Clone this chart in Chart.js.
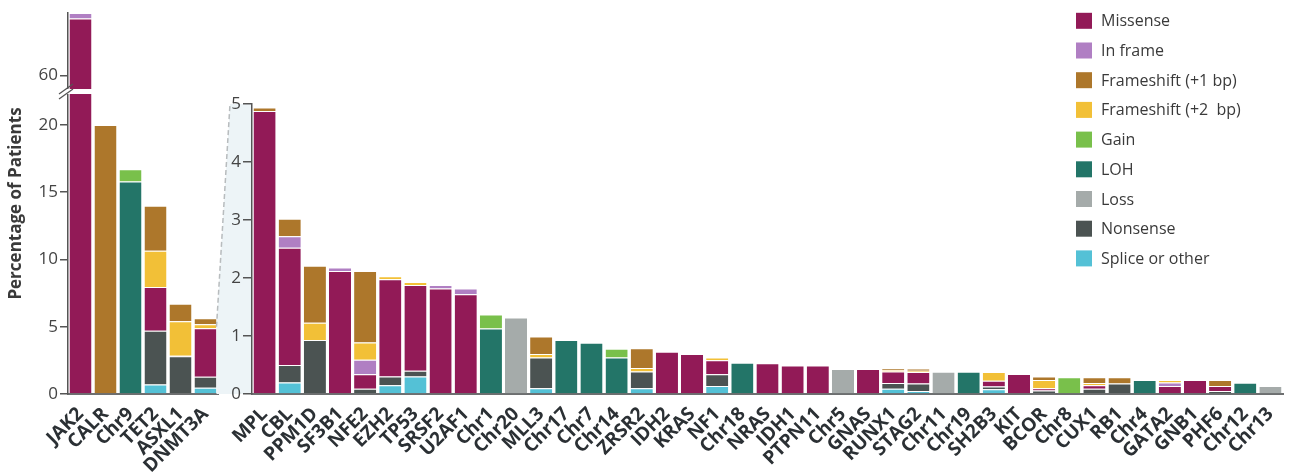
<!DOCTYPE html>
<html lang="en">
<head>
<meta charset="UTF-8">
<title>Percentage of Patients by gene</title>
<script src="https://cdn.jsdelivr.net/npm/chart.js"></script>
<style>
  body { margin: 0; background: #fff; }
  #wrap { position: relative; width: 1290px; height: 472px; }
  #wrap canvas { position: absolute; left: 0; top: 0; }
</style>
</head>
<body>
<div id="wrap">
  <canvas id="leftChart" width="1290" height="472"></canvas>
  <canvas id="rightChart" width="1290" height="472"></canvas>
</div>
<script>
// categories: first 6 go in the left (broken axis) panel, the rest in the zoomed panel
const genes = ['JAK2', 'CALR', 'Chr9', 'TET2', 'ASXL1', 'DNMT3A',
  'MPL', 'CBL', 'PPM1D', 'SF3B1', 'NFE2', 'EZH2', 'TP53', 'SRSF2', 'U2AF1',
  'Chr1', 'Chr20', 'MLL3', 'Chr17', 'Chr7', 'Chr14', 'ZRSR2', 'IDH2', 'KRAS', 'NF1',
  'Chr18', 'NRAS', 'IDH1', 'PTPN11', 'Chr5', 'GNAS', 'RUNX1', 'STAG2', 'Chr11', 'Chr19',
  'SH2B3', 'KIT', 'BCOR', 'Chr8', 'CUX1', 'RB1', 'Chr4', 'GATA2', 'GNB1', 'PHF6', 'Chr12', 'Chr13'];
const splitAt = 6;

// percentage of patients per alteration type (same order as genes)
const missense = [64.25, 0, 0, 3.25, 0.05, 3.6,
  4.88, 2.02, 0, 2.12, 0.25, 1.68, 1.48, 1.82, 1.72,
  0, 0, 0, 0, 0, 0, 0, 0.73, 0.69, 0.24,
  0, 0.53, 0.49, 0.49, 0, 0.43, 0.2, 0.2, 0, 0,
  0.1, 0.345, 0.04, 0, 0.06, 0, 0, 0.14, 0.24, 0.09, 0, 0];
const inFrame = [0.4, 0, 0, 0, 0, 0,
  0, 0.2, 0, 0.06, 0.25, 0, 0, 0.06, 0.1,
  0, 0, 0, 0, 0, 0, 0, 0, 0, 0,
  0, 0, 0, 0, 0, 0, 0, 0, 0, 0,
  0, 0, 0, 0, 0, 0, 0, 0.06, 0, 0, 0, 0];
const frameshift1 = [0, 20.0, 0, 3.35, 1.3, 0.45,
  0.06, 0.3, 0.98, 0, 1.23, 0, 0, 0, 0,
  0, 0, 0.3, 0, 0, 0, 0.34, 0, 0, 0,
  0, 0, 0, 0, 0, 0, 0.03, 0.04, 0, 0,
  0, 0, 0.06, 0, 0.1, 0.11, 0, 0, 0, 0.1, 0, 0];
const frameshift2 = [0, 0, 0, 2.7, 2.55, 0.3,
  0, 0, 0.3, 0, 0.3, 0.05, 0.05, 0, 0,
  0, 0, 0.06, 0, 0, 0, 0.06, 0, 0, 0.05,
  0, 0, 0, 0, 0, 0, 0.02, 0.02, 0, 0,
  0.15, 0, 0.14, 0, 0.04, 0, 0, 0.04, 0, 0, 0, 0];
const gain = [0, 0, 0.9, 0, 0, 0,
  0, 0, 0, 0, 0, 0, 0, 0, 0,
  0.24, 0, 0, 0, 0, 0.15, 0, 0, 0, 0,
  0, 0, 0, 0, 0, 0, 0, 0, 0, 0,
  0, 0, 0, 0.29, 0, 0, 0, 0, 0, 0, 0, 0];
const loh = [0, 0, 15.8, 0, 0, 0,
  0, 0, 0, 0, 0, 0, 0, 0, 0,
  1.13, 0, 0, 0.93, 0.885, 0.63, 0, 0, 0, 0,
  0.54, 0, 0, 0, 0, 0, 0, 0, 0, 0.385,
  0, 0, 0, 0, 0, 0, 0.24, 0, 0, 0, 0.195, 0];
const loss = [0, 0, 0, 0, 0, 0,
  0, 0, 0, 0, 0, 0, 0, 0, 0,
  0, 1.32, 0, 0, 0, 0, 0, 0, 0, 0,
  0, 0, 0, 0, 0.43, 0, 0, 0, 0.385, 0,
  0, 0, 0, 0, 0, 0, 0, 0, 0, 0, 0, 0.14];
const nonsense = [0, 0, 0, 4.0, 2.8, 0.82,
  0, 0.3, 0.93, 0, 0.09, 0.15, 0.1, 0, 0,
  0, 0, 0.53, 0, 0, 0, 0.29, 0, 0, 0.2,
  0, 0, 0, 0, 0, 0, 0.1, 0.13, 0, 0,
  0.05, 0, 0.06, 0, 0.09, 0.18, 0, 0, 0, 0.05, 0, 0];
const splice = [0, 0, 0, 0.7, 0, 0.47,
  0, 0.2, 0, 0, 0, 0.15, 0.3, 0, 0,
  0, 0, 0.1, 0, 0, 0, 0.1, 0, 0, 0.14,
  0, 0, 0, 0, 0, 0, 0.09, 0.05, 0, 0,
  0.08, 0, 0, 0, 0, 0, 0, 0, 0, 0, 0, 0];

const leftTicks = [0, 5, 10, 15, 20, 60];
const rightTicks = [0, 1, 2, 3, 4, 5];

// stack order, bottom to top
const series = [
  { label: 'Splice or other', color: '#54c1d6', values: splice },
  { label: 'Nonsense', color: '#4b5352', values: nonsense },
  { label: 'Loss', color: '#a5abaa', values: loss },
  { label: 'LOH', color: '#237568', values: loh },
  { label: 'Gain', color: '#79c04b', values: gain },
  { label: 'Missense', color: '#921a57', values: missense },
  { label: 'In frame', color: '#b07fc3', values: inFrame },
  { label: 'Frameshift (+2  bp)', color: '#f2c037', values: frameshift2 },
  { label: 'Frameshift (+1 bp)', color: '#ad772b', values: frameshift1 }
];
const legendOrder = ['Missense', 'In frame', 'Frameshift (+1 bp)', 'Frameshift (+2  bp)',
  'Gain', 'LOH', 'Loss', 'Nonsense', 'Splice or other'];

// broken axis on the left panel
const LOW_MAX = 22.3, HIGH_MIN = 59, HIGH_MAX = 64.65, GAP = 5;

class BrokenScale extends Chart.LinearScale {
  _k() { return (this.bottom - this.top - GAP) / (LOW_MAX + HIGH_MAX - HIGH_MIN); }
  getPixelForValue(v) {
    if (v === null || v === undefined || isNaN(v)) return NaN;
    const k = this._k();
    const lowTop = this.bottom - LOW_MAX * k;
    const highBottom = lowTop - GAP;
    if (v <= LOW_MAX) return this.bottom - v * k;
    if (v >= HIGH_MIN) return highBottom - (v - HIGH_MIN) * k;
    return lowTop - (v - LOW_MAX) / (HIGH_MIN - LOW_MAX) * GAP;
  }
  getValueForPixel(p) {
    const k = this._k();
    const lowTop = this.bottom - LOW_MAX * k;
    const highBottom = lowTop - GAP;
    if (p >= lowTop) return (this.bottom - p) / k;
    if (p <= highBottom) return HIGH_MIN + (highBottom - p) / k;
    return LOW_MAX + (lowTop - p) / GAP * (HIGH_MIN - LOW_MAX);
  }
}
BrokenScale.id = 'broken';
BrokenScale.defaults = Chart.LinearScale.defaults;
Chart.register(BrokenScale);

function datasetsFor(from, to) {
  return series.map(s => ({
    label: s.label,
    data: s.values.slice(from, to).map(v => v || null),
    backgroundColor: s.color,
    borderColor: 'rgba(255,255,255,0.85)',
    borderWidth: { top: 1, left: 0, right: 0, bottom: 0 },
    borderSkipped: false,
    barPercentage: 0.88,
    categoryPercentage: 1
  }));
}

const tickFont = { family: 'Open Sans', size: 17 };
const labelFont = { family: 'Open Sans', size: 19, weight: 'bold' };
const axisGrey = '#555';

function xAxis() {
  return {
    stacked: true,
    grid: { display: false },
    border: { display: true, color: '#6d6f70', width: 2 },
    ticks: { font: labelFont, color: '#2b3034', autoSkip: false, minRotation: 45, maxRotation: 45, padding: 1 },
    afterFit: s => { s.height = 78; }
  };
}

// break marks on the left axis
const breakPlugin = {
  id: 'axisBreak',
  afterDatasetsDraw(chart) {
    const ctx = chart.ctx, y = chart.scales.y, area = chart.chartArea;
    const lowTop = y.getPixelForValue(LOW_MAX);
    const highBottom = y.getPixelForValue(HIGH_MIN);
    ctx.save();
    ctx.fillStyle = '#fff';
    ctx.fillRect(area.left - 3, highBottom, area.right - area.left + 3, lowTop - highBottom);
    ctx.strokeStyle = axisGrey;
    ctx.lineWidth = 1.3;
    [highBottom, lowTop].forEach(cy => {
      ctx.beginPath();
      ctx.moveTo(area.left - 9, cy + 5);
      ctx.lineTo(area.left + 5, cy - 5);
      ctx.stroke();
    });
    ctx.restore();
  }
};

const leftChart = new Chart(document.getElementById('leftChart'), {
  type: 'bar',
  data: { labels: genes.slice(0, splitAt), datasets: datasetsFor(0, splitAt) },
  options: {
    responsive: false,
    animation: false,
    layout: { padding: { left: 0, right: 1072, top: 13, bottom: 0 } },
    plugins: { legend: { display: false }, tooltip: { enabled: false } },
    scales: {
      x: xAxis(),
      y: {
        type: 'broken',
        stacked: true,
        min: 0,
        max: HIGH_MAX,
        afterBuildTicks: s => { s.ticks = leftTicks.map(v => ({ value: v })); },
        grid: { drawOnChartArea: false, tickLength: 8, color: axisGrey, lineWidth: 1.5 },
        border: { display: true, color: axisGrey, width: 1.5 },
        ticks: { font: tickFont, color: '#444', padding: 2 },
        title: {
          display: true,
          text: 'Percentage of Patients',
          font: { family: 'Open Sans', size: 17, weight: 'bold' },
          color: '#3a3a3a',
          padding: { top: 6, bottom: 0 }
        },
        afterFit: s => { s.width = 68; }
      }
    }
  },
  plugins: [breakPlugin]
});

// light blue "zoom" wedge from the left panel to the right axis
const zoomPlugin = {
  id: 'zoomWedge',
  beforeDraw(chart) {
    const ctx = chart.ctx, area = chart.chartArea;
    const bar = leftChart.getDatasetMeta(0).data[splitAt - 1];
    const x0 = bar.x + bar.width / 2;
    const y0 = leftChart.scales.y.getPixelForValue(5);
    const x1 = area.left;
    const y1 = chart.scales.y.getPixelForValue(5);
    const xTop = x1 - 22;
    ctx.save();
    ctx.fillStyle = '#edf4f7';
    ctx.beginPath();
    ctx.moveTo(x0, y0);
    ctx.lineTo(xTop, y1);
    ctx.lineTo(x1, y1);
    ctx.lineTo(x1, area.bottom);
    ctx.lineTo(x0, area.bottom);
    ctx.closePath();
    ctx.fill();
    ctx.strokeStyle = '#b8bcbe';
    ctx.lineWidth = 1.5;
    ctx.setLineDash([5, 3]);
    ctx.beginPath();
    ctx.moveTo(x0, y0);
    ctx.lineTo(xTop, y1);
    ctx.stroke();
    ctx.restore();
  }
};

const legendPlugin = {
  id: 'sideLegend',
  afterDraw(chart) {
    const ctx = chart.ctx;
    ctx.save();
    ctx.font = '16px "Open Sans"';
    ctx.textBaseline = 'middle';
    legendOrder.forEach((name, i) => {
      const s = series.find(d => d.label === name);
      const cy = 20.8 + i * 29.7;
      ctx.fillStyle = s.color;
      ctx.fillRect(1076, cy - 8, 16, 16);
      ctx.fillStyle = '#3a3a3a';
      ctx.fillText(name, 1101, cy + 1);
    });
    ctx.restore();
  }
};

const rightChart = new Chart(document.getElementById('rightChart'), {
  type: 'bar',
  data: { labels: genes.slice(splitAt), datasets: datasetsFor(splitAt, genes.length) },
  options: {
    responsive: false,
    animation: false,
    layout: { padding: { left: 212, right: 7, top: 104, bottom: 0 } },
    plugins: { legend: { display: false }, tooltip: { enabled: false } },
    scales: {
      x: xAxis(),
      y: {
        stacked: true,
        min: 0,
        max: 5,
        afterBuildTicks: s => { s.ticks = rightTicks.map(v => ({ value: v })); },
        grid: { drawOnChartArea: false, tickLength: 9, color: axisGrey, lineWidth: 1.5 },
        border: { display: true, color: axisGrey, width: 1.5 },
        ticks: { font: tickFont, color: '#444', padding: 2 },
        afterFit: s => { s.width = 40; }
      }
    }
  },
  plugins: [zoomPlugin, legendPlugin]
});
</script>
</body>
</html>
